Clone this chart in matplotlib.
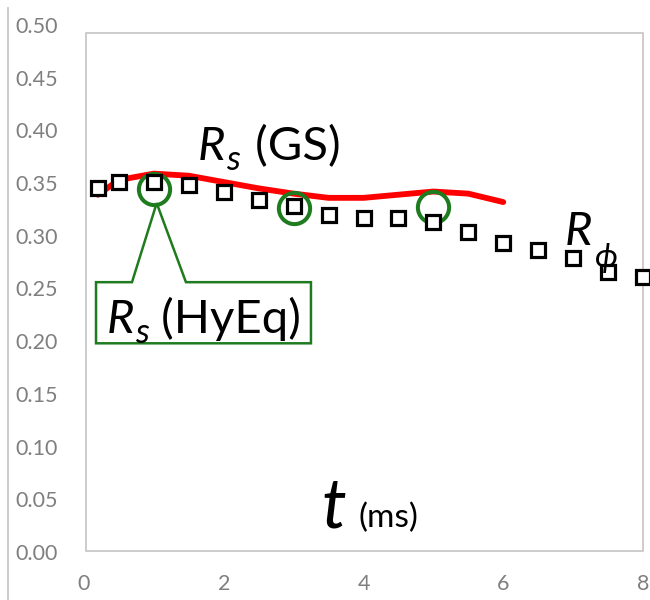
import matplotlib
matplotlib.use("Agg")
import matplotlib.pyplot as plt
from matplotlib.patches import Rectangle, Polygon
from matplotlib.lines import Line2D
from matplotlib.transforms import offset_copy

plt.rcParams['font.family'] = ['Lato', 'DejaVu Sans']

# ---- data ----
rphi_t = [0.2, 0.5, 1.0, 1.5, 2.0, 2.5, 3.0, 3.5, 4.0, 4.5, 5.0, 5.5, 6.0, 6.5, 7.0, 7.5, 8.0]
rphi_v = [0.345, 0.351, 0.351, 0.348, 0.342, 0.334, 0.328, 0.320, 0.317, 0.317, 0.313,
          0.304, 0.293, 0.287, 0.279, 0.266, 0.261]

gs_t = [0.2, 0.5, 1.0, 1.5, 2.0, 2.5, 3.0, 3.5, 4.0, 4.5, 5.0, 5.5, 6.0]
gs_v = [0.339, 0.353, 0.359, 0.357, 0.351, 0.345, 0.340, 0.336, 0.336, 0.339, 0.342, 0.340, 0.332]

hyeq_t = [1.0, 3.0, 5.0]
hyeq_v = [0.344, 0.326, 0.327]

y_ticks = [0.00, 0.05, 0.10, 0.15, 0.20, 0.25, 0.30, 0.35, 0.40, 0.45, 0.50]
x_ticks = [0, 2, 4, 6, 8]

green = '#1e7b1e'
gray = '#7f7f7f'

fig = plt.figure(figsize=(6.5, 6.0), dpi=100)
ax = fig.add_axes([84/650, 48/600, 559/650, 527/600])
ax.set_xlim(0, 8)
ax.set_ylim(0, 0.5)
for s in ax.spines.values():
    s.set_visible(False)
ax.set_yticks(y_ticks)
ax.set_yticklabels([f"{v:.2f}" for v in y_ticks])
ax.set_xticks(x_ticks)
ax.set_xticklabels([str(v) for v in x_ticks])
ax.tick_params(axis='y', length=0, pad=19, labelsize=15.5, labelcolor=gray)
ax.tick_params(axis='x', length=0, pad=16, labelsize=15.5, labelcolor=gray)

# plot-area frame
ax.add_patch(Rectangle((0.0036, 0.002), 0.996, 0.983, transform=ax.transAxes,
                       fill=False, edgecolor='#c4c4c4', lw=1.2, clip_on=False, zorder=0))
# chart left border
fig.add_artist(Line2D([8/650, 8/650], [0, 592/600], transform=fig.transFigure,
                      color='#c8c8c8', lw=1.3))

ax.plot(gs_t, gs_v, color='#ff0000', lw=4.2, solid_capstyle='round',
        solid_joinstyle='round', zorder=2, clip_on=False)
ax.plot(hyeq_t, hyeq_v, linestyle='none', marker='o', markersize=22.5, markerfacecolor='none',
        markeredgecolor=green, markeredgewidth=2.9, zorder=3, clip_on=False)
ax.plot(rphi_t, rphi_v, linestyle='none', marker='s', markersize=10, markerfacecolor='white',
        markeredgecolor='black', markeredgewidth=2.3, zorder=4, clip_on=False)

# callout box for HyEq
apex_t, apex_v = hyeq_t[0] + 0.04, hyeq_v[0] - 0.013
box = Polygon([(0.172, 0.256), (0.687, 0.256), (apex_t, apex_v), (1.459, 0.256),
               (3.248, 0.256), (3.248, 0.198), (0.172, 0.198)], closed=True,
              fill=True, facecolor='white', edgecolor=green, lw=1.8, zorder=5)
ax.add_patch(box)

renderer = fig.canvas.get_renderer()


def compose(x, y, pieces):
    """pieces: (text, fontsize, style, extra gap px, dy px)"""
    dx = 0.0
    for txt, size, style, gap, dy in pieces:
        dx += gap
        tr = offset_copy(ax.transData, fig=fig, x=dx, y=dy, units='dots')
        t = ax.text(x, y, txt, fontsize=size, style=style, ha='left', va='baseline',
                    transform=tr, zorder=6)
        dx += t.get_window_extent(renderer).width


compose(0.33, 0.208, [('R', 34, 'italic', 0, 0), ('s', 25, 'italic', 0, -10),
                      (' (HyEq)', 34, 'normal', 0, 0)])
compose(1.63, 0.372, [('R', 34, 'italic', 0, 0), ('s', 25, 'italic', 0, -10),
                      (' (GS)', 34, 'normal', 4, 0)])
compose(6.88, 0.291, [('R', 34, 'italic', 0, 0), ('ϕ', 24, 'italic', 3, -22)])
compose(3.40, 0.0237, [('t', 50, 'italic', 0, 0), ('(ms)', 24, 'normal', 12, 0)])

fig.savefig('out.png', dpi=100)
